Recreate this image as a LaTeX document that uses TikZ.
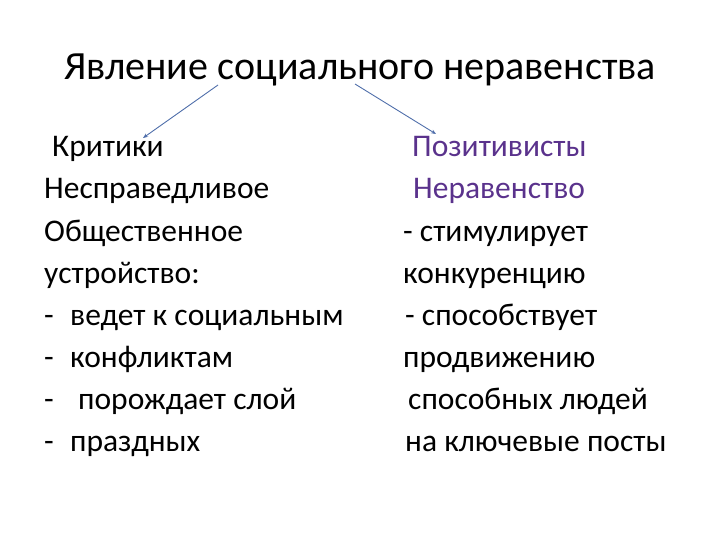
\documentclass[tikz,border=0pt]{standalone}
\usepackage{fontspec}
\setmainfont{Carlito}
\usetikzlibrary{arrows.meta}
\definecolor{lnc}{RGB}{79,110,170}
\definecolor{pur}{RGB}{90,50,140}
\begin{document}
\begin{tikzpicture}[x=1pt,y=-1pt,
  t/.style={anchor=base west,inner sep=0pt,font=\fontsize{31.5}{36}\selectfont},
  conn/.style={draw=lnc,line width=0.9pt,-{Stealth[length=5pt,width=4pt]}}]
\useasboundingbox (0,0) rectangle (720,540);
\node[anchor=base,inner sep=0pt,font=\fontsize{40}{44}\selectfont] (title) at (360,80) {Явление социального неравенства};
\coordinate (s1) at (218,85);
\coordinate (s2) at (355,84);
\node[t] (l1) at (52,157) {Критики};
\node[t] (l2) at (44,199) {Несправедливое};
\node[t] (l3) at (44,241) {Общественное};
\node[t] (l4) at (44,283) {устройство:};
\node[t] (d1) at (44,325) {-}; \node[t] (l5) at (70,325) {ведет к социальным};
\node[t] (d2) at (44,367) {-}; \node[t] (l6) at (70,367) {конфликтам};
\node[t] (d3) at (44,409) {-}; \node[t] (l7) at (78,409) {порождает слой};
\node[t] (d4) at (44,451) {-}; \node[t] (l8) at (70,451) {праздных};
\node[t,text=pur] (r1) at (412,157) {Позитивисты};
\node[t,text=pur] (r2) at (413,199) {Неравенство};
\node[t] (r3) at (403,241) {- стимулирует};
\node[t] (r4) at (403,283) {конкуренцию};
\node[t] (r5) at (405,325) {- способствует};
\node[t] (r6) at (403,367) {продвижению};
\node[t] (r7) at (408,409) {способных людей};
\node[t] (r8) at (405,451) {на ключевые посты};
\coordinate (e1) at (143,138);
\coordinate (e2) at (436,134);
\draw[conn] (s1) -- (e1);
\draw[conn] (s2) -- (e2);
\end{tikzpicture}
\end{document}
